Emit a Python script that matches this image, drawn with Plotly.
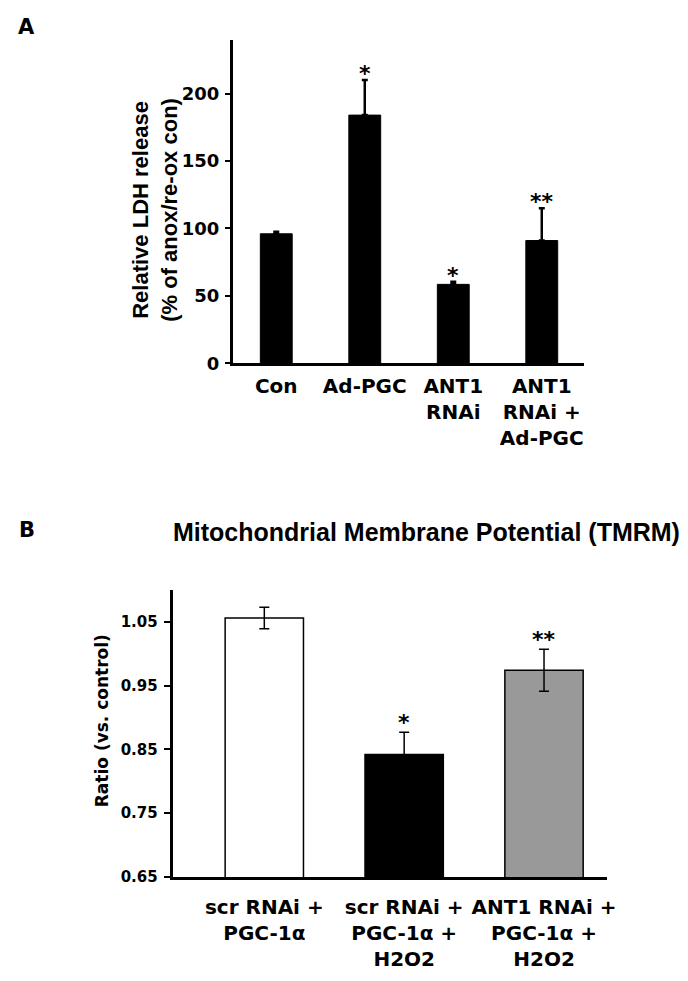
import plotly.graph_objects as go

# Panel A: relative LDH release
ldh_groups = ["Con", "Ad-PGC", "ANT1<br>RNAi", "ANT1<br>RNAi +<br>Ad-PGC"]
ldh_values = [96, 184, 58.5, 91]
ldh_errors = [1.5, 26, 2, 24]
ldh_marks = ["", "*", "*", "**"]
ldh_ticks = [0, 50, 100, 150, 200]

# Panel B: mitochondrial membrane potential
tmrm_groups = [
    "scr RNAi +<br>PGC-1α",
    "scr RNAi +<br>PGC-1α +<br>H2O2",
    "ANT1 RNAi +<br>PGC-1α +<br>H2O2",
]
tmrm_values = [1.056, 0.842, 0.974]
tmrm_errors = [0.017, 0.035, 0.033]
tmrm_marks = ["", "*", "**"]
tmrm_colors = ["white", "black", "#999999"]
tmrm_ticks = [0.65, 0.75, 0.85, 0.95, 1.05]

W, H = 688, 981
BOLD = "DejaVu Sans"
NARROW = "Liberation Sans"


def px_x(x):
    return x / W


def px_y(y):
    return 1 - y / H


def bold(family, size):
    return dict(family=family, size=size, color="black", weight="bold")


fig = go.Figure()

fig.add_trace(go.Bar(
    x=ldh_groups, y=ldh_values,
    marker=dict(color="black", line=dict(color="black", width=1)),
    width=0.36,
    error_y=dict(type="data", array=ldh_errors, arrayminus=[0] * len(ldh_errors),
                 color="black", thickness=2.5, width=3),
    xaxis="x", yaxis="y", showlegend=False,
))

fig.add_trace(go.Bar(
    x=tmrm_groups, y=tmrm_values,
    marker=dict(color=tmrm_colors, line=dict(color="black", width=1.5)),
    width=0.56,
    error_y=dict(type="data", array=tmrm_errors, color="black", thickness=1.5, width=5),
    xaxis="x2", yaxis="y2", showlegend=False,
))

annotations = []
for g, v, e, m in zip(ldh_groups, ldh_values, ldh_errors, ldh_marks):
    if m:
        annotations.append(dict(
            x=g, y=v + e, xref="x", yref="y", text=m, showarrow=False,
            xanchor="center", yanchor="bottom", yshift=-8,
            font=bold(BOLD, 22),
        ))
for g, v, e, m in zip(tmrm_groups, tmrm_values, tmrm_errors, tmrm_marks):
    if m:
        annotations.append(dict(
            x=g, y=v + e, xref="x2", yref="y2", text=m, showarrow=False,
            xanchor="center", yanchor="bottom", yshift=-5,
            font=bold(BOLD, 22),
        ))

annotations += [
    dict(text="A", x=px_x(27), y=px_y(27), xref="paper", yref="paper",
         xanchor="center", yanchor="middle", showarrow=False, font=bold(BOLD, 21)),
    dict(text="B", x=px_x(27), y=px_y(535), xref="paper", yref="paper",
         xanchor="center", yanchor="middle", showarrow=False, font=bold(BOLD, 21)),
    dict(text="Mitochondrial Membrane Potential (TMRM)", x=px_x(432), y=px_y(537),
         xref="paper", yref="paper", xanchor="center", yanchor="middle",
         showarrow=False, font=bold(NARROW, 25)),
    dict(text="Relative LDH release<br>(% of anox/re-ox con)", x=px_x(157), y=px_y(212),
         xref="paper", yref="paper", xanchor="center", yanchor="middle",
         showarrow=False, textangle=-90, font=bold(NARROW, 22)),
    dict(text="Ratio (vs. control)", x=px_x(103), y=px_y(728),
         xref="paper", yref="paper", xanchor="center", yanchor="middle",
         showarrow=False, textangle=-90, font=bold(BOLD, 17)),
]

axis_common = dict(showline=True, linecolor="black", linewidth=3, showgrid=False,
                   zeroline=False, ticks="", fixedrange=True)

fig.update_layout(
    width=W, height=H,
    margin=dict(l=0, r=0, t=0, b=0),
    paper_bgcolor="white", plot_bgcolor="white",
    xaxis=dict(axis_common, domain=[px_x(236), px_x(592)], range=[-0.49, 3.48],
               anchor="y", ticklabelstandoff=3, tickfont=bold(BOLD, 20)),
    yaxis=dict(axis_common, domain=[px_y(367), px_y(40)], range=[0, 240],
               anchor="x", tickvals=ldh_ticks, ticks="outside", ticklen=5, tickwidth=2,
               tickcolor="black", ticklabelstandoff=2, tickfont=bold(BOLD, 18)),
    xaxis2=dict(axis_common, domain=[px_x(175), px_x(615)], range=[-0.655, 2.45],
                anchor="y2", ticklabelstandoff=10, tickfont=bold(BOLD, 20)),
    yaxis2=dict(axis_common, domain=[px_y(886), px_y(596)], range=[0.65, 1.10],
                anchor="x2", tickvals=tmrm_ticks, tickformat=".2f", ticks="outside",
                ticklen=6, tickwidth=2, tickcolor="black", ticklabelstandoff=3,
                tickfont=bold(BOLD, 15)),
    annotations=annotations,
)

fig.write_html("out.html", config={"displayModeBar": False},
               post_script="document.body.style.margin='0';")
